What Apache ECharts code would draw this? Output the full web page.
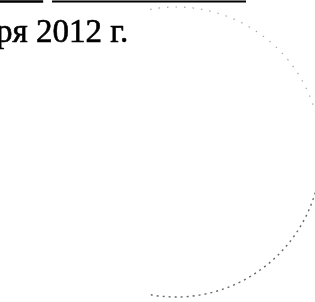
<!DOCTYPE html>
<html>
<head>
<meta charset="utf-8">
<script src="https://cdn.jsdelivr.net/npm/echarts@6/dist/echarts.min.js"></script>
<style>
  html, body { margin: 0; padding: 0; background: #fff; }
  #chart { width: 315px; height: 302px; }
</style>
</head>
<body>
<div id="chart"></div>
<script>
// text of the scanned fragment
var dateText = 'ря 2012 г.';
// underline segments (start/end as fraction of the width)
var ruleStarts = [0, 0.165];
var ruleEnds = [0.137, 0.781];

var myChart = echarts.init(document.getElementById('chart'));
var W = 315, H = 302;

var graphics = [];
ruleStarts.forEach(function (s, i) {
  graphics.push({
    type: 'line',
    shape: { x1: s * W, y1: 1.5, x2: ruleEnds[i] * W, y2: 1.5 },
    style: { stroke: '#000', lineWidth: i == 0 ? 2.6 : 2.2 }
  });
});
graphics.push({
  type: 'text',
  x: -4,
  y: 50,
  style: {
    text: dateText,
    font: '33px "Liberation Serif"',
    fill: '#000',
    stroke: '#000',
    lineWidth: 0.6,
    verticalAlign: 'bottom'
  }
});
// faded stamp ring, only the right half is left on the scan
// top part is fainter than the lower right part
graphics.push({
  type: 'arc',
  shape: { cx: 176, cy: 152, r: 145, startAngle: -1.75, endAngle: 0.2, clockwise: true },
  style: { stroke: '#a8a8a8', fill: null, lineWidth: 1.2, lineDash: [1.5, 7] }
});
graphics.push({
  type: 'arc',
  shape: { cx: 176, cy: 152, r: 145, startAngle: 0.2, endAngle: 1.75, clockwise: true },
  style: { stroke: '#6a6a6a', fill: null, lineWidth: 1.4, lineDash: [2, 4] }
});

myChart.setOption({
  backgroundColor: '#fff',
  animation: false,
  graphic: graphics
});
</script>
</body>
</html>
